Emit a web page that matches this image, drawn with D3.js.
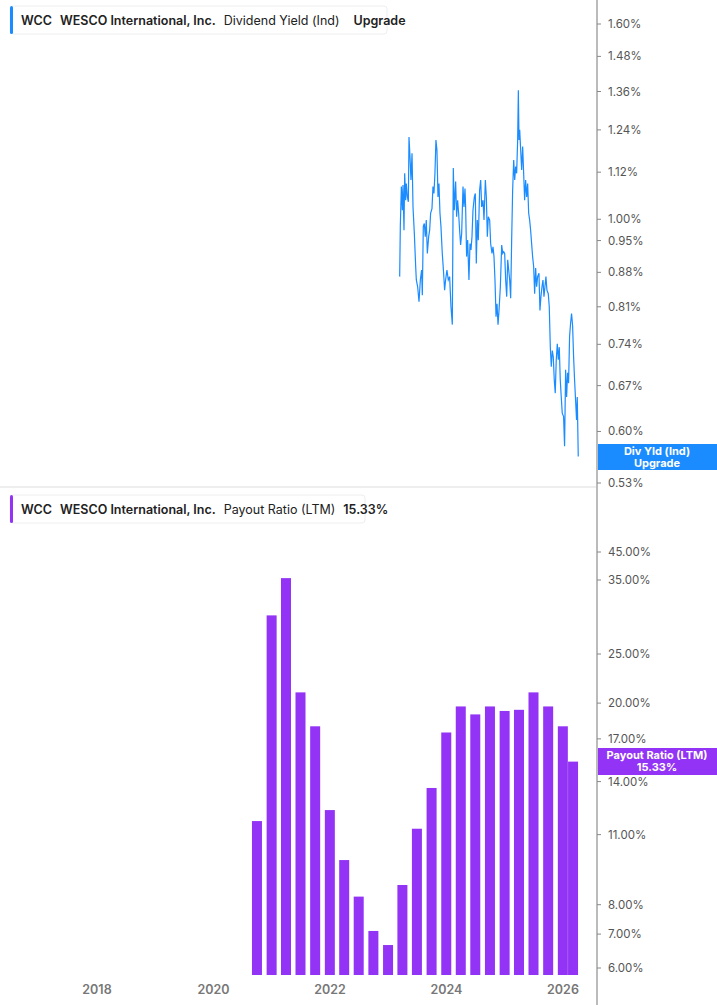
<!DOCTYPE html>
<html><head><meta charset="utf-8">
<script src="https://cdn.jsdelivr.net/npm/d3@7"></script>
<style>body{margin:0;background:#fff;font-family:Inter,"Noto Sans",sans-serif}</style>
</head><body><svg id="c" width="717" height="1005"></svg>
<script>
const yieldYears=[2023.197,2023.208,2023.226,2023.243,2023.254,2023.271,2023.283,2023.300,2023.311,2023.329,
2023.346,2023.357,2023.374,2023.391,2023.409,2023.426,2023.449,2023.472,2023.483,2023.506,
2023.529,2023.552,2023.574,2023.586,2023.603,2023.620,2023.637,2023.654,2023.672,2023.695,
2023.712,2023.729,2023.752,2023.769,2023.786,2023.803,2023.820,2023.837,2023.855,2023.872,
2023.889,2023.906,2023.929,2023.952,2023.969,2023.986,2024.009,2024.032,2024.055,2024.078,
2024.101,2024.118,2024.135,2024.158,2024.175,2024.192,2024.209,2024.226,2024.243,2024.261,
2024.284,2024.301,2024.318,2024.329,2024.346,2024.364,2024.386,2024.404,2024.421,2024.438,
2024.455,2024.478,2024.495,2024.512,2024.529,2024.546,2024.569,2024.587,2024.604,2024.627,
2024.644,2024.667,2024.684,2024.701,2024.718,2024.741,2024.758,2024.781,2024.798,2024.815,
2024.832,2024.850,2024.867,2024.884,2024.901,2024.924,2024.947,2024.964,2024.981,2024.998,
2025.015,2025.033,2025.050,2025.067,2025.084,2025.101,2025.118,2025.135,2025.153,2025.170,
2025.187,2025.204,2025.221,2025.233,2025.244,2025.256,2025.273,2025.290,2025.307,2025.324,
2025.341,2025.358,2025.376,2025.393,2025.410,2025.427,2025.444,2025.461,2025.478,2025.496,
2025.513,2025.530,2025.547,2025.564,2025.587,2025.604,2025.621,2025.639,2025.656,2025.673,
2025.690,2025.707,2025.724,2025.747,2025.764,2025.782,2025.799,2025.816,2025.833,2025.850,
2025.867,2025.884,2025.902,2025.919,2025.936,2025.953,2025.970,2025.987,2026.010,2026.027,
2026.045,2026.062,2026.079,2026.096,2026.113,2026.130,2026.147,2026.165,2026.182,2026.199,
2026.216,2026.233,2026.245,2026.262];
const yieldValues=[0.871,0.983,1.082,1.022,1.086,0.974,1.117,1.047,1.090,1.055,
1.043,1.219,1.163,1.099,1.172,1.030,0.966,0.892,0.864,0.850,
0.820,0.864,0.885,0.833,0.983,0.990,0.959,0.998,0.921,0.959,
0.974,1.015,1.026,1.082,1.064,1.117,1.210,1.181,1.055,1.090,
1.015,0.983,0.921,0.878,0.843,0.864,0.885,0.864,0.871,0.810,
0.776,1.131,1.022,1.095,1.006,1.047,1.015,0.974,0.940,0.966,
1.082,1.030,1.077,1.030,0.914,0.951,0.864,0.943,0.929,0.959,
1.022,1.055,1.064,0.899,0.998,0.951,1.073,1.099,1.030,1.047,
0.998,1.099,1.055,0.959,1.006,0.998,0.943,0.921,0.936,0.914,
0.864,0.791,0.816,0.776,0.803,0.850,0.940,0.921,0.925,0.921,
0.864,0.830,0.907,0.885,0.864,0.827,0.951,1.073,1.153,1.099,
1.135,1.117,1.210,1.364,1.210,1.240,1.181,1.126,1.191,1.117,
1.047,1.099,1.055,1.090,1.015,0.998,0.974,0.943,0.914,0.892,
0.836,0.889,0.850,0.871,0.878,0.803,0.830,0.850,0.864,0.830,
0.850,0.871,0.843,0.836,0.810,0.735,0.701,0.729,0.718,0.679,
0.658,0.713,0.741,0.713,0.735,0.679,0.652,0.627,0.622,0.579,
0.696,0.652,0.691,0.674,0.754,0.778,0.797,0.774,0.718,0.679,
0.647,0.617,0.652,0.565];
const payoutDates=["2020-09-30","2020-12-31","2021-03-31","2021-06-30","2021-09-30","2021-12-31","2022-03-31","2022-06-30","2022-09-30","2022-12-31","2023-03-31","2023-06-30","2023-09-30","2023-12-31","2024-03-31","2024-06-30","2024-09-30","2024-12-31","2025-03-31","2025-06-30","2025-09-30","2025-12-31","2026-03-05"];
const payoutValues=[11.7,29.8,35.3,21.0,18.0,12.3,9.8,8.3,7.1,6.66,8.75,11.3,13.6,17.5,19.7,19.0,19.7,19.3,19.4,21.0,19.7,18.0,15.33];
const yieldTicks=[0.53,0.60,0.67,0.74,0.81,0.88,0.95,1.00,1.12,1.24,1.36,1.48,1.60];
const payoutTicks=[6,7,8,11,14,17,20,25,35,45];
const yearTicks=[2018,2020,2022,2024,2026];

const svg=d3.select("#c");
const axisX=597;
const yr2date=y=>{const Y=Math.floor(y);const s=new Date(Y,0,1),e=new Date(Y+1,0,1);return new Date(+s+(y-Y)*(e-s));};
const x=d3.scaleTime().domain([new Date(2018,0,1),new Date(2026,0,1)]).range([97,563]);
const yTop=d3.scaleLog().domain([0.53,1.6]).range([483,24]);
const yBot=d3.scaleLog().domain([6,35]).range([968,580]);
const gray="#9e9e9e", txt="#555";

// divider
svg.append("line").attr("x1",0).attr("x2",axisX).attr("y1",487).attr("y2",487).attr("stroke","#ddd");
svg.append("line").attr("x1",axisX).attr("x2",axisX).attr("y1",0).attr("y2",1005).attr("stroke","#bbb").attr("stroke-width",2);

// line
const pts=d3.zip(yieldYears,yieldValues);
svg.append("path").datum(pts).attr("fill","none").attr("stroke","#1a8cff").attr("stroke-width",1.2)
 .attr("d",d3.line().x(d=>x(yr2date(d[0]))).y(d=>yTop(d[1])));

// bars
svg.selectAll("rect.bar").data(payoutValues).enter().append("rect")
 .attr("x",(d,i)=>x(new Date(payoutDates[i]))-5).attr("width",10)
 .attr("y",d=>yBot(d)).attr("height",d=>975-yBot(d)).attr("fill","#9333f5");

// right axes
const tk=(g,vals,pos,fmt)=>{vals.forEach(v=>{const yy=pos(v);
 g.append("line").attr("x1",axisX).attr("x2",axisX+4).attr("y1",yy).attr("y2",yy).attr("stroke","#888");
 g.append("text").attr("x",axisX+11).attr("y",yy+4).attr("font-size",11.5).attr("fill",txt).text(fmt(v));});};
tk(svg,yieldTicks,yTop,v=>v.toFixed(2)+"%");
tk(svg,payoutTicks,v=>Math.max(yBot(v),552),v=>v.toFixed(2)+"%");

// x axis
yearTicks.forEach(Y=>{svg.append("text").attr("x",x(new Date(Y,0,1))).attr("y",994).attr("text-anchor","middle")
 .attr("font-size",12.5).attr("font-weight",600).attr("fill","#777").text(Y);});

// value tags
function tag(y0,h,color,l1,l2){svg.append("rect").attr("x",axisX+1).attr("y",y0).attr("width",120).attr("height",h).attr("fill",color);
 svg.append("text").attr("x",657).attr("y",y0+11).attr("text-anchor","middle").attr("font-size",11).attr("font-weight",700).attr("fill","#fff").text(l1);
 svg.append("text").attr("x",657).attr("y",y0+23).attr("text-anchor","middle").attr("font-size",11).attr("font-weight",700).attr("fill","#fff").text(l2);}
tag(444,26,"#1a8cff","Div Yld (Ind)","Upgrade");
tag(748,27,"#9333f5","Payout Ratio (LTM)","15.33%");

// legends
function legend(y0,w,color,parts){svg.append("rect").attr("x",10).attr("y",y0).attr("width",w).attr("height",28).attr("rx",3).attr("fill","#fff").attr("stroke","#eee");
 svg.append("rect").attr("x",10).attr("y",y0).attr("width",3).attr("height",28).attr("rx",1.5).attr("fill",color);
 const t=svg.append("text").attr("x",21).attr("y",y0+19).attr("font-size",12.5).attr("fill","#222");
 parts.forEach(p=>t.append("tspan").attr("font-weight",p[1]).attr("dx",p[2]).text(p[0]));}
legend(6,377,"#1a8cff",[["WCC",600,0],["WESCO International, Inc.",600,8],["Dividend Yield (Ind)",400,8],["Upgrade",600,14]]);
legend(495,355,"#9333f5",[["WCC",600,0],["WESCO International, Inc.",600,8],["Payout Ratio (LTM)",400,8],["15.33%",600,8]]);
</script></body></html>
